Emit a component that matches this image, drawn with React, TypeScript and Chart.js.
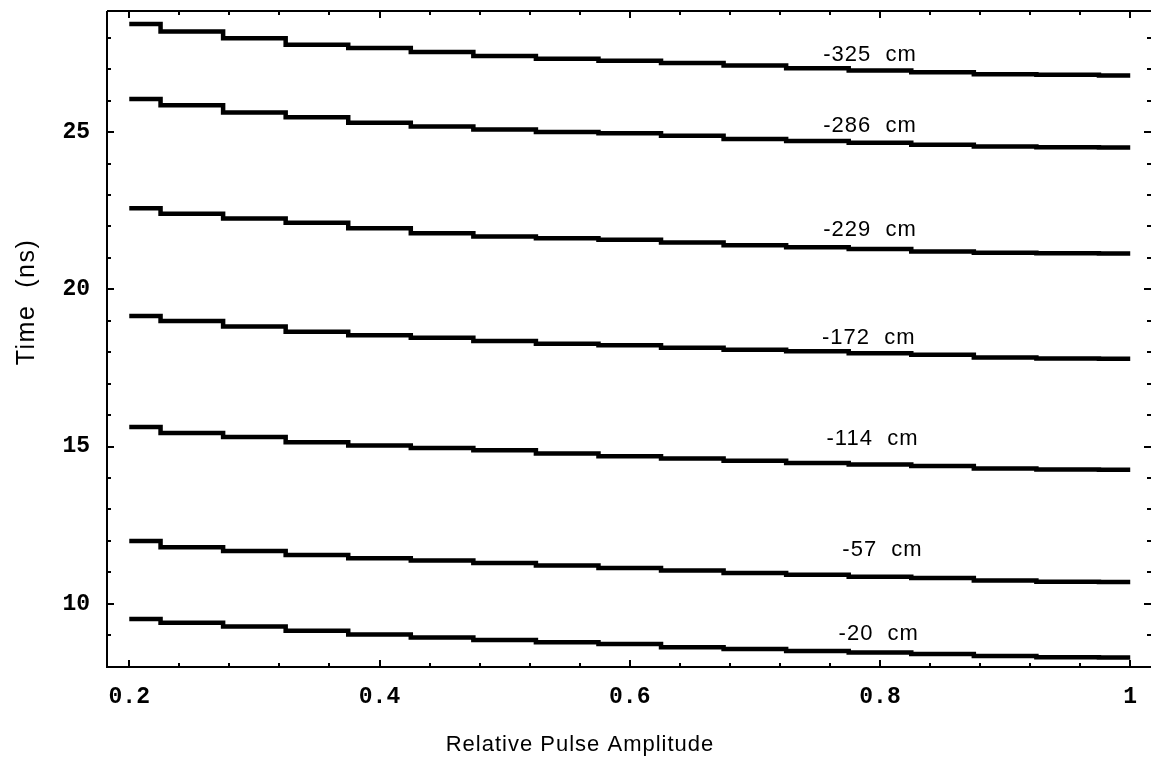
import React, { useEffect, useRef } from 'react';
import { Chart, registerables } from 'chart.js';

Chart.register(...registerables);

// Relative pulse amplitude sample points
const amplitude = [0.2, 0.25, 0.3, 0.35, 0.4, 0.45, 0.5, 0.55, 0.6, 0.65, 0.7, 0.75, 0.8, 0.85, 0.9, 0.95, 1.0];

// Time (ns) for each distance
const time325 = [28.44, 28.2, 27.98, 27.78, 27.67, 27.55, 27.42, 27.33, 27.27, 27.2, 27.12, 27.03, 26.96, 26.9, 26.84, 26.82, 26.8];
const time286 = [26.05, 25.85, 25.62, 25.47, 25.3, 25.18, 25.08, 25.0, 24.96, 24.88, 24.78, 24.72, 24.66, 24.6, 24.54, 24.52, 24.51];
const time229 = [22.58, 22.4, 22.25, 22.12, 21.94, 21.78, 21.68, 21.62, 21.58, 21.49, 21.4, 21.34, 21.28, 21.2, 21.16, 21.15, 21.14];
const time172 = [19.15, 18.99, 18.82, 18.65, 18.54, 18.46, 18.36, 18.27, 18.22, 18.14, 18.08, 18.03, 17.97, 17.92, 17.83, 17.8, 17.79];
const time114 = [15.62, 15.43, 15.3, 15.14, 15.03, 14.95, 14.88, 14.78, 14.69, 14.62, 14.55, 14.48, 14.43, 14.38, 14.3, 14.27, 14.26];
const time57 = [12.0, 11.8, 11.68, 11.55, 11.45, 11.38, 11.3, 11.22, 11.14, 11.06, 10.98, 10.92, 10.86, 10.82, 10.74, 10.7, 10.69];
const time20 = [9.52, 9.4, 9.28, 9.14, 9.02, 8.93, 8.85, 8.78, 8.72, 8.62, 8.56, 8.5, 8.45, 8.4, 8.34, 8.3, 8.29];

const seriesData = [time325, time286, time229, time172, time114, time57, time20];
const seriesNames = ['-325  cm', '-286  cm', '-229  cm', '-172  cm', '-114  cm', '-57  cm', '-20  cm'];
const labelAmplitude = [0.792, 0.792, 0.792, 0.791, 0.794, 0.802, 0.799];
const labelTime = [27.45, 25.2, 21.9, 18.44, 15.25, 11.7, 9.04];

const xTickValues = [0.2, 0.4, 0.6, 0.8, 1.0];
const xTickLabels = ['0.2', '0.4', '0.6', '0.8', '1'];
const yTickValues = [10, 15, 20, 25];
const yTickLabels = ['10', '15', '20', '25'];

const xTitle = 'Relative Pulse Amplitude';
const yTitle = 'Time  (ns)';

const framePlugin = {
  id: 'frame',
  afterDatasetsDraw(chart: any) {
    const { ctx, chartArea, scales } = chart;
    const xs = scales.x;
    const ys = scales.y;
    const { left, right, top, bottom } = chartArea;
    ctx.save();
    ctx.strokeStyle = '#000';
    ctx.lineWidth = 2;
    ctx.beginPath();
    ctx.moveTo(left, top);
    ctx.lineTo(right, top);
    ctx.moveTo(left, top);
    ctx.lineTo(left, bottom);
    ctx.lineTo(right, bottom);
    ctx.stroke();

    // y ticks (every 1 ns, major every 5)
    ctx.lineWidth = 2;
    ctx.beginPath();
    for (let v = Math.ceil(ys.min); v <= ys.max; v += 1) {
      const py = Math.round(ys.getPixelForValue(v));
      const len = v % 5 === 0 ? 7 : 4;
      ctx.moveTo(left, py);
      ctx.lineTo(left + len, py);
      ctx.moveTo(right, py);
      ctx.lineTo(right - len, py);
    }
    // x ticks (every 0.04, major every 0.2)
    for (let k = 0; k <= 20; k++) {
      const v = 0.2 + k * 0.04;
      const px = Math.round(xs.getPixelForValue(v));
      const len = k % 5 === 0 ? 7 : 4;
      ctx.moveTo(px, bottom);
      ctx.lineTo(px, bottom - len);
      ctx.moveTo(px, top);
      ctx.lineTo(px, top + len);
    }
    ctx.stroke();

    // series labels
    ctx.fillStyle = '#000';
    (ctx as any).letterSpacing = '1px';
    ctx.font = '22px "Liberation Sans", Arial, sans-serif';
    ctx.textAlign = 'center';
    ctx.textBaseline = 'middle';
    seriesNames.forEach((name, i) => {
      ctx.fillText(name, xs.getPixelForValue(labelAmplitude[i]), ys.getPixelForValue(labelTime[i]));
    });

    // axis titles
    ctx.font = '22px "Liberation Sans", Arial, sans-serif';
    ctx.fillText(xTitle, 580, 745);
    ctx.save();
    ctx.translate(27, 302);
    ctx.rotate(-Math.PI / 2);
    (ctx as any).letterSpacing = '1.5px';
    ctx.font = '25px "Liberation Sans", Arial, sans-serif';
    ctx.fillText(yTitle, 0, 0);
    ctx.restore();
    ctx.restore();
  },
};

export default function App() {
  const canvasRef = useRef<HTMLCanvasElement | null>(null);

  useEffect(() => {
    if (!canvasRef.current) return;
    const chart = new Chart(canvasRef.current, {
      type: 'line',
      data: {
        datasets: seriesData.map((series, i) => ({
          label: seriesNames[i],
          data: series.map((t, j) => ({ x: amplitude[j], y: t })),
          borderColor: '#000',
          backgroundColor: '#000',
          borderWidth: 4.5,
          pointRadius: 0,
          stepped: 'middle' as const,
          fill: false,
        })),
      },
      options: {
        animation: false,
        responsive: true,
        maintainAspectRatio: false,
        layout: { autoPadding: false, padding: { left: 0, top: 11, right: 1, bottom: 0 } },
        plugins: {
          legend: { display: false },
          title: { display: false },
          tooltip: { enabled: false },
        },
        scales: {
          x: {
            type: 'linear',
            min: 0.1822,
            max: 1.0166,
            grid: { display: false, drawTicks: false },
            border: { display: false },
            afterBuildTicks: (s: any) => {
              s.ticks = xTickValues.map((v) => ({ value: v }));
            },
            afterFit: (s: any) => {
              s.height = 117;
              s.paddingLeft = 0;
              s.paddingRight = 0;
            },
            ticks: {
              autoSkip: false,
              maxRotation: 0,
              padding: 16,
              color: '#000',
              font: { family: '"Liberation Mono", "Courier New", monospace', size: 23, weight: 'bold' },
              callback: (_v: any, i: number) => xTickLabels[i],
            },
          },
          y: {
            type: 'linear',
            min: 7.99,
            max: 28.85,
            grid: { display: false, drawTicks: false },
            border: { display: false },
            afterBuildTicks: (s: any) => {
              s.ticks = yTickValues.map((v) => ({ value: v }));
            },
            afterFit: (s: any) => {
              s.width = 107;
              s.paddingTop = 0;
              s.paddingBottom = 0;
            },
            ticks: {
              autoSkip: false,
              padding: 17,
              color: '#000',
              font: { family: '"Liberation Mono", "Courier New", monospace', size: 23, weight: 'bold' },
              callback: (_v: any, i: number) => yTickLabels[i],
            },
          },
        },
      },
      plugins: [framePlugin],
    });
    return () => chart.destroy();
  }, []);

  return (
    <div style={{ position: 'fixed', left: 0, top: 0, width: 1152, height: 784, background: '#fff' }}>
      <canvas ref={canvasRef} />
    </div>
  );
}
